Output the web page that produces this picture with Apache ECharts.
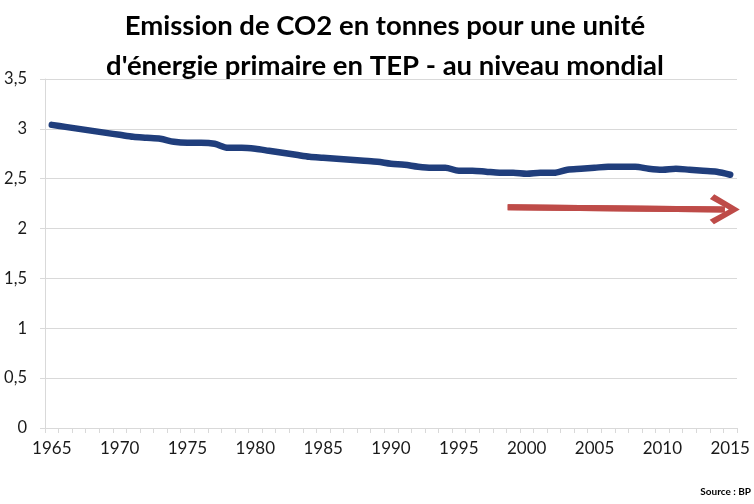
<!DOCTYPE html>
<html>
<head>
<meta charset="utf-8">
<script src="https://cdn.jsdelivr.net/npm/echarts@6/dist/echarts.min.js"></script>
<style>html,body{margin:0;padding:0;background:#fff}#c{width:754px;height:504px}</style>
</head>
<body>
<div id="c"></div>
<script>
var years = [];
for (var y = 1965; y <= 2015; y++) years.push(String(y));
var emissions = [3.04,3.02,3.00,2.98,2.96,2.94,2.92,2.91,2.90,2.87,2.86,2.86,2.85,2.81,2.81,2.80,
  2.78,2.76,2.74,2.72,2.71,2.70,2.69,2.68,2.67,2.65,2.64,2.62,2.61,2.61,2.58,2.58,2.57,
  2.56,2.56,2.55,2.56,2.56,2.59,2.60,2.61,2.62,2.62,2.62,2.60,2.59,2.60,2.59,2.58,2.57,2.54];
var arrowPoints = [[1998.6, 2.215], [2014.6, 2.192]];
var yTicks = [0, 0.5, 1, 1.5, 2, 2.5, 3, 3.5];

var chart = echarts.init(document.getElementById('c'), null, {renderer: 'canvas'});
var axisGrey = '#d9d9d9';
chart.setOption({
  animation: false,
  title: {
    text: "Emission de CO2 en tonnes pour une unité\nd'énergie primaire en TEP - au niveau mondial",
    left: 380, top: 1, textAlign: 'center',
    textStyle: {fontFamily: 'Lato', fontWeight: 'bold', fontSize: 27.5, lineHeight: 40, color: '#000'}
  },
  graphic: [{
    type: 'text', right: 3, top: 487,
    style: {text: 'Source : BP', font: 'bold 10px Lato', fill: '#000'}
  }],
  grid: {left: 45, right: 17, top: 79, bottom: 76},
  xAxis: [{
    type: 'category', data: years, boundaryGap: true,
    axisLine: {lineStyle: {color: axisGrey, width: 1}},
    axisTick: {show: true, interval: 0, length: 5, lineStyle: {color: axisGrey}},
    axisLabel: {interval: 4, margin: 12, fontFamily: 'Lato', fontSize: 17, color: '#1a1a1a'},
    splitLine: {show: false}
  }, {
    type: 'value', min: 1964.5, max: 2015.5, show: false
  }],
  yAxis: {
    type: 'value', min: 0, max: 3.5, interval: 0.5,
    axisLine: {show: true, lineStyle: {color: axisGrey, width: 1}},
    axisTick: {show: true, length: 5, lineStyle: {color: axisGrey}},
    axisLabel: {margin: 18, fontFamily: 'Lato', fontSize: 16.5, color: '#1a1a1a',
      formatter: function (v) { return String(v).replace('.', ','); }},
    splitLine: {lineStyle: {color: axisGrey, width: 1}}
  },
  series: [{
    type: 'line', data: emissions, xAxisIndex: 0,
    showSymbol: false, symbol: 'none', smooth: 0.3,
    lineStyle: {color: '#203E7C', width: 6.5, cap: 'round', join: 'round'}
  }, {
    type: 'line', data: arrowPoints, xAxisIndex: 1,
    showSymbol: false, symbol: 'none', clip: false, silent: true,
    lineStyle: {color: '#BE4B48', width: 6},
    markLine: {
      silent: true, animation: false,
      symbol: ['none', 'path://M13,0 L26,21 L22,24.5 L13,9 L4,24.5 L0,21 Z'],
      symbolSize: [30, 30],
      label: {show: false},
      lineStyle: {color: '#BE4B48', width: 6, type: 'solid'},
      itemStyle: {color: '#BE4B48'},
      data: [[{coord: arrowPoints[0]}, {coord: arrowPoints[1]}]]
    }
  }]
});
</script>
</body>
</html>
